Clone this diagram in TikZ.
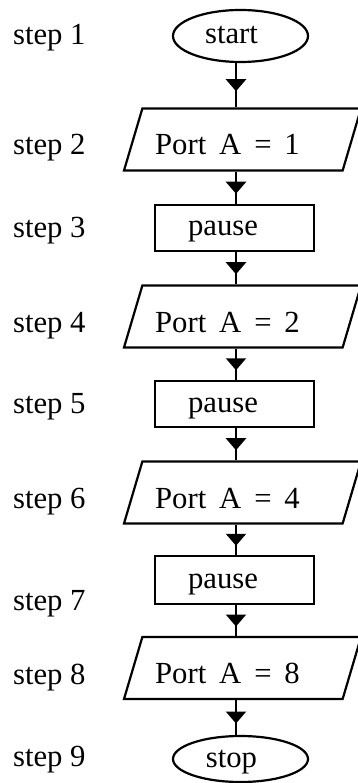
\documentclass[tikz,border=0pt]{standalone}
\usepackage{fontspec}
\setmainfont{Liberation Serif}
\usetikzlibrary{shapes.geometric,arrows.meta,decorations.markings}

\newcommand\widespaces{\spaceskip=0.42em\relax}

\begin{document}
\begin{tikzpicture}[x=1pt, y=-1pt, line width=2.2pt,
  font=\fontsize{30.7}{36}\selectfont,
  term/.style={ellipse, draw, inner sep=0pt, minimum width=135pt, text height=22pt, text depth=6pt, execute at end node={\hspace*{18pt}}},
  proc/.style={rectangle, draw, inner sep=0pt, minimum width=159pt, text height=22pt, text depth=6pt, execute at end node={\hspace*{23pt}}},
  io/.style={trapezium, trapezium left angle=73.5, trapezium right angle=106.5, trapezium stretches body=true, draw, inner xsep=0pt, inner ysep=15.5pt, minimum width=237pt, text height=31pt, text depth=0pt, execute at begin node={\widespaces}, execute at end node={\hspace*{30pt}}},
  steplabel/.style={anchor=base west, inner sep=0pt},
  flow/.style={postaction={decorate}, decoration={markings, mark=at position 0.5 with {\arrow[xshift=6pt]{Triangle[width=20pt, length=12pt]}}}}]
\useasboundingbox (0,0) rectangle (358,783);
\coordinate (spine) at (236,0);

\node[term , minimum height=52pt] (start) at (240.5,36) {start};
\node[io] (port1) at (242.5,139.5) {Port A = 1};
\node[proc , minimum height=46pt] (pause1) at (234.5,228) {pause};
\node[io] (port2) at (242.5,316.5) {Port A = 2};
\node[proc , minimum height=46pt] (pause2) at (234.5,404) {pause};
\node[io] (port3) at (242.5,492.5) {Port A = 4};
\node[proc , minimum height=48pt] (pause3) at (234.5,580) {pause};
\node[io] (port4) at (242.5,668) {Port A = 8};
\node[term , minimum height=46pt] (stop) at (240.5,759) {stop};

\node[steplabel] (step1) at (12,45) {step 1};
\node[steplabel] (step2) at (12,155) {step 2};
\node[steplabel] (step3) at (12,238) {step 3};
\node[steplabel] (step4) at (12,332) {step 4};
\node[steplabel] (step5) at (12,413) {step 5};
\node[steplabel] (step6) at (12,508) {step 6};
\node[steplabel] (step7) at (12,610) {step 7};
\node[steplabel] (step8) at (12,684) {step 8};
\node[steplabel] (step9) at (12,766) {step 9};

\draw[flow] (start.south -| spine) -- (port1.north -| spine);
\draw[flow] (port1.south -| spine) -- (pause1.north -| spine);
\draw[flow] (pause1.south -| spine) -- (port2.north -| spine);
\draw[flow] (port2.south -| spine) -- (pause2.north -| spine);
\draw[flow] (pause2.south -| spine) -- (port3.north -| spine);
\draw[flow] (port3.south -| spine) -- (pause3.north -| spine);
\draw[flow] (pause3.south -| spine) -- (port4.north -| spine);
\draw[flow] (port4.south -| spine) -- (stop.north -| spine);
\end{tikzpicture}
\end{document}
